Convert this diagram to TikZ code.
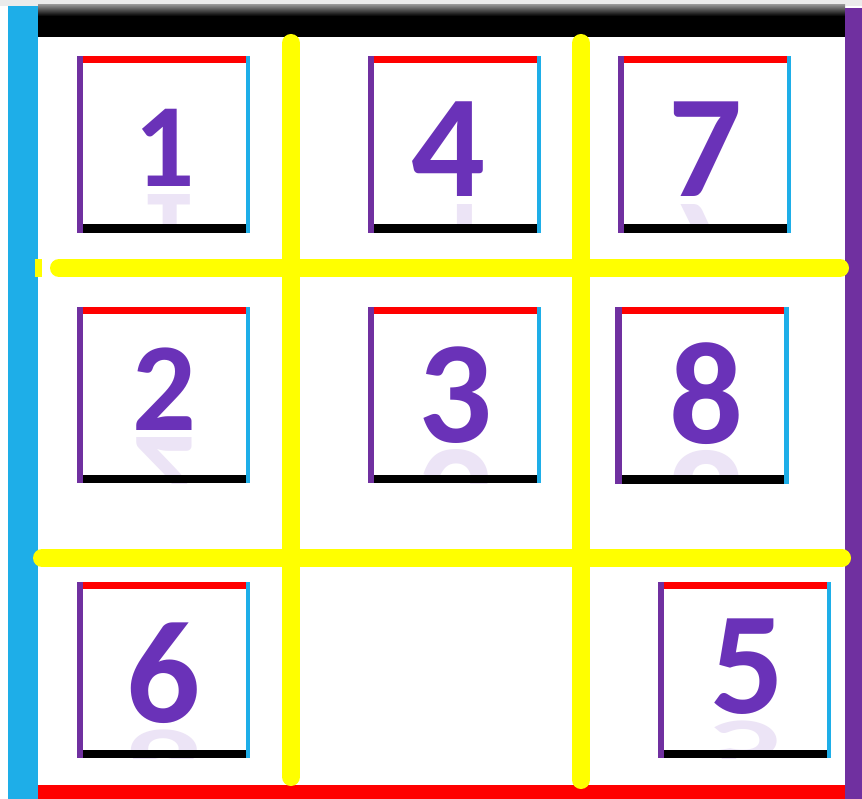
\documentclass[tikz,border=0pt]{standalone}
\usepackage{fontspec}
\setmainfont{Carlito}
\usepackage{graphicx}
\usetikzlibrary{positioning}
\definecolor{PuzzleBlue}{HTML}{1EAEE8}
\definecolor{PuzzleViolet}{HTML}{7030A0}
\definecolor{PuzzleRed}{HTML}{FF0000}
\definecolor{PuzzleYellow}{HTML}{FFFF00}
\definecolor{PuzzleDigit}{HTML}{6A32B8}

\begin{document}
\begin{tikzpicture}[
  x=1pt, y=-1pt,
  tile/.style={fill=white, minimum width=173pt, minimum height=176pt,
               inner sep=0pt},
  digit/.style={anchor=base, inner sep=0pt, text=PuzzleDigit,
                font=\bfseries\fontsize{#1}{#1}\selectfont},
  digit/.default=146,
  mirror/.style={digit=#1, text=PuzzleDigit!13},
  mirror/.default=146,
  gridline/.style={draw=PuzzleYellow, line width=18pt, line cap=round}
]
\useasboundingbox (0,0) rectangle (862,799);
\fill[white] (0,0) rectangle (862,799);
\fill[black!8] (0,0) rectangle (862,6);

% frame
\fill[PuzzleBlue] (8,6) rectangle (38,799);
\shade[top color=black!45, bottom color=black] (38,5) rectangle (845,16);
\fill[black] (38,16) rectangle (845,37);
\fill[PuzzleViolet] (845,8) rectangle (862,799);
\fill[PuzzleRed] (38,785) rectangle (845,799);

% tiles
\node[tile] (t1) at (163.5,144.5) {};
\node[tile] (t4) at (454.5,144.5) {};
\node[tile] (t7) at (704.5,144.5) {};
\node[tile] (t2) at (163.5,395) {};
\node[tile] (t3) at (454.5,395) {};
\node[tile] (t8) at (702,395.5) {};
\node[tile] (t6) at (163.5,670) {};
\node[tile] (t5) at (744.5,670) {};

% reflections
\begin{scope}
  \clip (t1.north west) rectangle (t1.south east)
        (t2.north west) rectangle (t2.south east)
        (t3.north west) rectangle (t3.south east)
        (t4.north west) rectangle (t4.south east)
        (t5.north west) rectangle (t5.south east)
        (t6.north west) rectangle (t6.south east)
        (t7.north west) rectangle (t7.south east)
        (t8.north west) rectangle (t8.south east);
  \node[mirror=119] (r1) at (165,195) {\scalebox{1}[-1]{1}};
  \node[mirror] (r4) at (448,205) {\scalebox{1}[-1]{4}};
  \node[mirror] (r7) at (705,205) {\scalebox{1}[-1]{7}};
  \node[mirror=126] (r2) at (164,437) {\scalebox{1}[-1]{2}};
  \node[mirror] (r3) at (455,450) {\scalebox{1}[-1]{3}};
  \node[mirror] (r8) at (706,451) {\scalebox{1}[-1]{8}};
  \node[mirror] (r6) at (163,730) {\scalebox{1}[-0.6]{6}};
  \node[mirror] (r5) at (747,721) {\scalebox{1}[-0.6]{5}};
\end{scope}

\foreach \t in {t1,t2,t3,t4,t5,t6,t7,t8}{
  \fill[PuzzleRed] (\t.north west) rectangle ([yshift=-7pt]\t.north east);
  \fill[PuzzleBlue] ([xshift=-4.5pt]\t.north east) rectangle (\t.south east);
  \fill[PuzzleViolet] (\t.north west) rectangle ([xshift=6.5pt]\t.south west);
  \fill[black] ([xshift=6.5pt]\t.south west)
    rectangle ([xshift=-4.5pt,yshift=8.5pt]\t.south east);
}

% digits
\node[digit=119] (d1) at (165,187) {1};
\node[digit] (d4) at (448,197) {4};
\node[digit] (d7) at (705,197) {7};
\node[digit=126] (d2) at (164,430) {2};
\node[digit] (d3) at (455,442) {3};
\node[digit] (d8) at (706,443) {8};
\node[digit] (d6) at (163,722) {6};
\node[digit] (d5) at (747,713) {5};

% yellow grid
\draw[gridline] (291,43) -- (291,777);
\draw[gridline] (581,43) -- (581,780);
\draw[gridline] (59,268) -- (840,268);
\draw[gridline] (42,558) -- (842,558);
\fill[PuzzleYellow] (35,259) rectangle (42,277);
\end{tikzpicture}
\end{document}
